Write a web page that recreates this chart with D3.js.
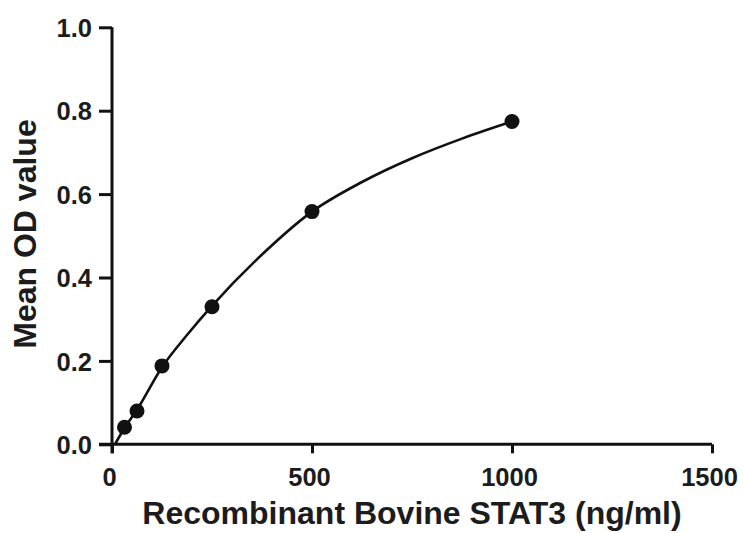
<!DOCTYPE html>
<html><head><meta charset="utf-8">
<script src="https://cdn.jsdelivr.net/npm/d3@7"></script>
<style>
html,body{margin:0;padding:0;background:#fff;}
svg{display:block;}
text{font-family:"Liberation Sans",Arial,sans-serif;font-weight:bold;fill:#1c1c1c;}
</style></head>
<body>
<svg id="chart" width="743" height="533"></svg>
<script>
// Data
const concentrations = [31.25, 62.5, 125, 250, 500, 1000];
const meanOD = [0.041, 0.080, 0.188, 0.330, 0.558, 0.774];
// fitted standard curve
const curveX = [7.5, 31.25, 62.5, 125, 187.5, 250, 375, 500, 625, 750, 875, 1000];
const curveY = [0.0, 0.039, 0.083, 0.185, 0.262, 0.332, 0.455, 0.558, 0.629, 0.686, 0.733, 0.774];
const xTicks = [0, 500, 1000, 1500];
const yTicks = [0.0, 0.2, 0.4, 0.6, 0.8, 1.0];
const xTitle = "Recombinant Bovine STAT3 (ng/ml)";
const yTitle = "Mean OD value";

const svg = d3.select("#chart");
const x = d3.scaleLinear().domain([0, 1500]).range([112, 712]);
const y = d3.scaleLinear().domain([0, 1]).range([444.3, 27.3]);

const xAxis = svg.append("g").attr("transform", `translate(0,${y(0)})`)
  .call(d3.axisBottom(x).tickValues(xTicks).tickFormat(d3.format("d")).tickSize(9).tickSizeOuter(0).tickPadding(6));
const yAxis = svg.append("g").attr("transform", `translate(${x(0)},0)`)
  .call(d3.axisLeft(y).tickValues(yTicks).tickFormat(d3.format(".1f")).tickSize(13).tickSizeOuter(0).tickPadding(7));

[xAxis, yAxis].forEach(g => {
  g.select(".domain").attr("stroke", "#111").attr("stroke-width", 3);
  g.selectAll(".tick line").attr("stroke", "#111").attr("stroke-width", 3);
  g.selectAll(".tick text").style("font-size", "25.5px").style("font-family", "'Liberation Sans',Arial,sans-serif").style("font-weight", "bold").attr("fill", "#1c1c1c");
});
xAxis.select(".domain").attr("d", `M${x(0)-13},0H${x(1500)}`);
yAxis.select(".domain").attr("d", `M0,${y(1)}V${y(0)+9}`);
xAxis.selectAll(".tick text").attr("y", 0).attr("dy", 0).attr("transform", "translate(-3,42)");
yAxis.selectAll(".tick text").attr("dy", "0.36em");

const line = d3.line().x(d => x(d[0])).y(d => y(d[1])).curve(d3.curveMonotoneX);
svg.append("path").datum(curveX.map((v, i) => [v, curveY[i]]))
  .attr("d", line).attr("fill", "none").attr("stroke", "#111").attr("stroke-width", 2.6);

svg.selectAll("circle.pt").data(concentrations.map((v, i) => [v, meanOD[i]]))
  .enter().append("circle").attr("class", "pt")
  .attr("cx", d => x(d[0])).attr("cy", d => y(d[1])).attr("r", 7.5).attr("fill", "#111");

svg.append("text").attr("x", 412).attr("y", 524).attr("text-anchor", "middle")
  .style("font-size", "32px").text(xTitle);
svg.append("text").attr("transform", `translate(36,234) rotate(-90)`).attr("text-anchor", "middle")
  .style("font-size", "32px").text(yTitle);
</script>
</body></html>
